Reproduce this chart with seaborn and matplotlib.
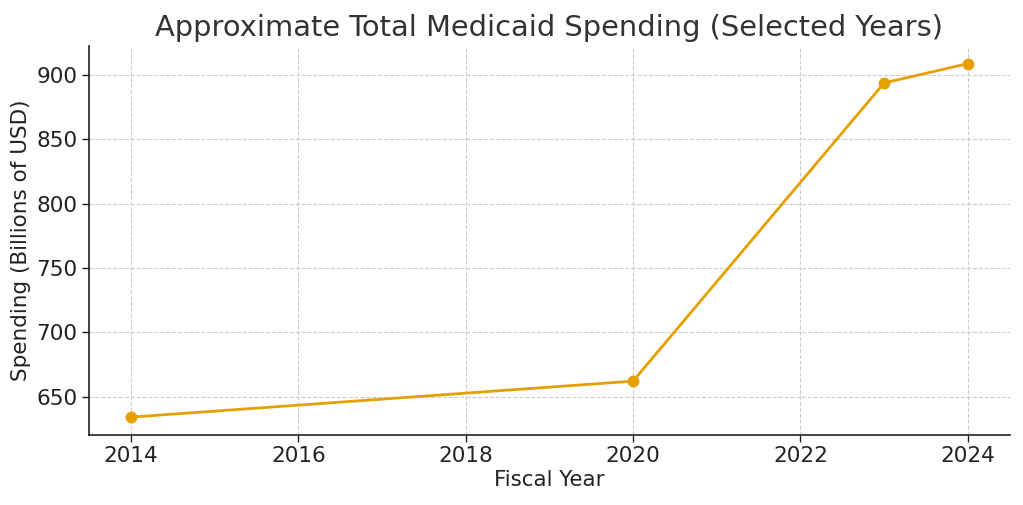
import matplotlib
matplotlib.use("Agg")
import matplotlib.pyplot as plt
import seaborn as sns
import pandas as pd

years = [2014, 2020, 2023, 2024]
spending = [634, 662, 894, 909]
x_ticks = [2014, 2016, 2018, 2020, 2022, 2024]
y_ticks = [650, 700, 750, 800, 850, 900]

sns.set_style("ticks")
plt.rcParams['font.family'] = ['DejaVu Sans']

df = pd.DataFrame({"Fiscal Year": years, "Spending": spending})

fig, ax = plt.subplots(figsize=(10.23, 5.05), dpi=100)
sns.lineplot(data=df, x="Fiscal Year", y="Spending", marker="o", color="#E69F00",
             linewidth=2, markersize=8.5, markeredgewidth=0, ax=ax)

ax.set_xticks(x_ticks)
ax.set_yticks(y_ticks)
ax.grid(True, linestyle="--", color="#cccccc", linewidth=0.8)
ax.set_axisbelow(True)
sns.despine(ax=ax)
for s in ["left", "bottom"]:
    ax.spines[s].set_color("#222222")
    ax.spines[s].set_linewidth(1.2)
ax.tick_params(axis="both", labelsize=15.5, length=5, width=1, colors="#222222", labelcolor="#222222")
ax.tick_params(axis="x", pad=3)
ax.set_title("Approximate Total Medicaid Spending (Selected Years)", fontsize=20.8, color="#333333", pad=7)
ax.set_xlabel("Fiscal Year", fontsize=15.4, color="#222222", labelpad=3)
ax.set_ylabel("Spending (Billions of USD)", fontsize=15.5, color="#222222")

fig.subplots_adjust(left=0.087, right=0.987, top=0.909, bottom=0.139)
fig.savefig("out.png", dpi=100)
